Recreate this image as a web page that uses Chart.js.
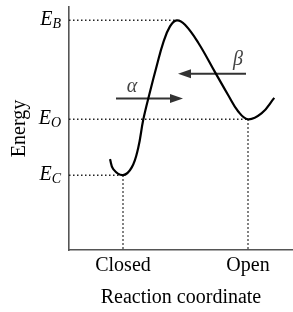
<!DOCTYPE html>
<html>
<head>
<meta charset="utf-8">
<script src="https://cdn.jsdelivr.net/npm/chart.js@4"></script>
<style>
html, body { margin: 0; padding: 0; background: #fff; }
canvas { display: block; }
</style>
</head>
<body>
<canvas id="energyChart" width="293" height="312"></canvas>
<script>
// energy curve
const curveX = [1.48, 1.61, 2.0, 2.35, 2.61, 2.81, 3.08, 3.35, 3.61, 3.88, 4.15, 4.48, 5.01, 5.68, 6.21, 6.61, 7.0, 7.55, 8.05];
const curveY = [3.74, 3.33, 3.08, 3.40, 4.21, 5.36, 6.51, 7.58, 8.53, 9.20, 9.45, 9.27, 8.53, 7.32, 6.37, 5.70, 5.38, 5.63, 6.26];

// states on the x axis
const stateNames = ["Closed", "Open"];
const stateX = [2, 7];

// energy levels (E_B, E_O, E_C) and where their guide meets the curve
const levelNames = ["B", "O", "C"];
const levelY = [9.45, 5.38, 3.08];
const levelX = [4.15, 7, 2];

// arrows: start -> tip
const arrowNames = ["α", "β"];
const arrowFrom = [1.72, 6.92];
const arrowTo = [4.4, 4.2];
const arrowY = [6.23, 7.25];
const arrowLabelX = [2.36, 6.6];
const arrowLabelY = [6.52, 7.61];

const xMin = -0.16, xMax = 8.8;
const serif = '"Liberation Serif", "Times New Roman", serif';
const dotted = { borderColor: "#222", borderWidth: 1.5, borderDash: [1.5, 2.5], pointRadius: 0, showLine: true };

const datasets = [{
  data: curveX.map((x, i) => ({ x: x, y: curveY[i] })),
  borderColor: "#000",
  borderWidth: 2.2,
  tension: 0.4,
  pointRadius: 0,
  showLine: true
}];

levelY.forEach((lv, i) => {
  datasets.push(Object.assign({ data: [{ x: xMin, y: lv }, { x: levelX[i], y: lv }] }, dotted));
});
stateX.forEach((sx) => {
  const lv = levelY[levelX.indexOf(sx)];
  datasets.push(Object.assign({ data: [{ x: sx, y: lv }, { x: sx, y: 0 }] }, dotted));
});
arrowFrom.forEach((ax, i) => {
  // shaft stops where the head starts
  const dir = Math.sign(arrowTo[i] - ax);
  datasets.push({
    data: [{ x: ax, y: arrowY[i] }, { x: arrowTo[i] - dir * 0.4, y: arrowY[i] }],
    borderColor: "#333", borderWidth: 2, pointRadius: 0, showLine: true
  });
});

const overlay = {
  id: "overlay",
  afterDatasetsDraw(chart) {
    const ctx = chart.ctx;
    const x = chart.scales.x, y = chart.scales.y;
    ctx.save();
    // arrow heads
    ctx.fillStyle = "#333";
    arrowTo.forEach((tx, i) => {
      const tip = x.getPixelForValue(tx);
      const dir = Math.sign(tx - arrowFrom[i]);
      const py = y.getPixelForValue(arrowY[i]);
      ctx.beginPath();
      ctx.moveTo(tip, py);
      ctx.lineTo(tip - dir * 13, py - 4.5);
      ctx.lineTo(tip - dir * 13, py + 4.5);
      ctx.closePath();
      ctx.fill();
    });
    // greek labels
    ctx.fillStyle = "#444";
    ctx.font = "italic 20px " + serif;
    ctx.textAlign = "center";
    ctx.textBaseline = "alphabetic";
    arrowNames.forEach((t, i) => {
      ctx.fillText(t, x.getPixelForValue(arrowLabelX[i]), y.getPixelForValue(arrowLabelY[i]));
    });
    // E levels
    ctx.fillStyle = "#000";
    ctx.textAlign = "left";
    const right = chart.chartArea.left - 8;
    levelNames.forEach((s, i) => {
      const base = y.getPixelForValue(levelY[i]) + 4.5;
      ctx.font = "italic 14px " + serif;
      const sw = ctx.measureText(s).width;
      ctx.font = "italic 20px " + serif;
      const ew = ctx.measureText("E").width;
      const x0 = right - sw - ew;
      ctx.fillText("E", x0, base);
      ctx.font = "italic 14px " + serif;
      ctx.fillText(s, x0 + ew, base + 3.5);
    });
    ctx.restore();
  }
};

new Chart("energyChart", {
  type: "scatter",
  data: { datasets: datasets },
  options: {
    responsive: false,
    animation: false,
    devicePixelRatio: 1,
    layout: { padding: { top: 7, left: 8, right: 0, bottom: 2 } },
    plugins: { legend: { display: false }, tooltip: { enabled: false } },
    scales: {
      x: {
        type: "linear", min: xMin, max: xMax,
        grid: { display: false, drawTicks: false },
        border: { display: true, color: "#555", width: 1.6 },
        afterBuildTicks: (axis) => { axis.ticks = stateX.map(v => ({ value: v })); },
        ticks: {
          callback: (v) => stateNames[stateX.indexOf(v)],
          font: { family: serif, size: 20 }, color: "#000", padding: 4,
          maxRotation: 0, autoSkip: false
        },
        title: { display: true, text: "Reaction coordinate", font: { family: serif, size: 20 }, color: "#000", padding: { top: 4, bottom: 0 } }
      },
      y: {
        min: 0, max: 10,
        grid: { display: false, drawTicks: false },
        border: { display: true, color: "#555", width: 1.6 },
        ticks: { display: false },
        title: { display: true, text: "Energy", font: { family: serif, size: 20 }, color: "#000", padding: { top: 0, bottom: 37 } }
      }
    }
  },
  plugins: [overlay]
});
</script>
</body>
</html>
